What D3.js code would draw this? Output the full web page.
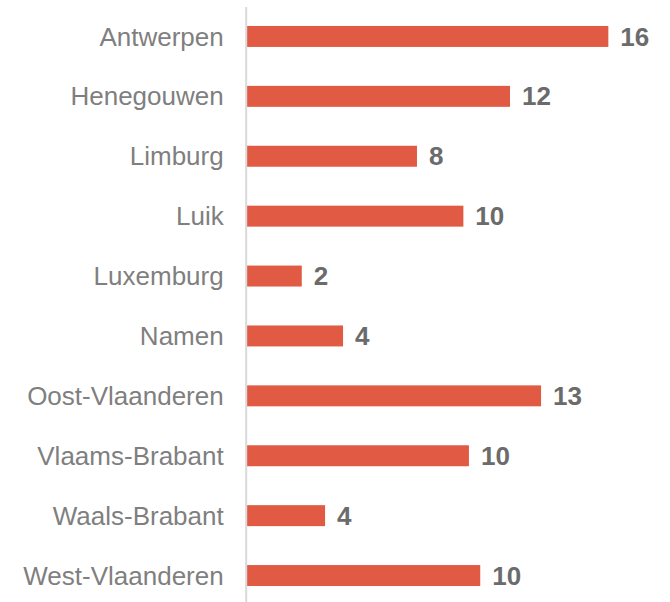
<!DOCTYPE html>
<html>
<head>
<meta charset="utf-8">
<script src="https://cdn.jsdelivr.net/npm/d3@7"></script>
<style>
  body { margin: 0; background: #fff; }
  svg { display: block; }
</style>
</head>
<body>
<div id="chart"></div>
<script>
// data (labels are the rounded numbers shown)
var provinces = ["Antwerpen", "Henegouwen", "Limburg", "Luik", "Luxemburg",
  "Namen", "Oost-Vlaanderen", "Vlaams-Brabant", "Waals-Brabant", "West-Vlaanderen"];
var values = [16.29, 11.86, 7.67, 9.76, 2.48, 4.34, 13.26, 10.01, 3.53, 10.52];
var valueLabels = ["16", "12", "8", "10", "2", "4", "13", "10", "4", "10"];

var svgWidth = 670;
var svgHeight = 602;

var data = provinces.map(function(p, i) {
  return { name: p, value: values[i], label: valueLabels[i] };
});

var svg = d3.select("#chart")
  .append("svg")
  .attr("width", svgWidth)
  .attr("height", svgHeight);

var x0 = 246.7;

// Create scale functions
var xScale = d3.scaleLinear()
  .domain([0, 18])
  .range([x0, x0 + 18 * 22.2]);

var yScale = d3.scaleBand()
  .domain(provinces)
  .range([6.5, 605.5])
  .paddingInner(0.65)
  .paddingOuter(0.325);

// Bars
svg.selectAll(".bar")
  .data(data)
  .enter()
  .append("rect")
  .attr("class", "bar")
  .attr("x", xScale(0))
  .attr("y", d => yScale(d.name))
  .attr("width", d => xScale(d.value) - xScale(0))
  .attr("height", yScale.bandwidth())
  .attr("fill", "#E05A44");

// Category axis
var leftAxis = d3.axisLeft(yScale)
  .tickSize(0)
  .tickSizeOuter(0)
  .tickPadding(22);

var axisG = svg.append("g")
  .attr("transform", "translate(245.7, 0)")
  .call(leftAxis);

axisG.select(".domain")
  .attr("stroke", "#d9d9d9")
  .attr("stroke-width", 2);

axisG.selectAll("text")
  .attr("font-family", "Liberation Sans, Arial, sans-serif")
  .attr("font-size", 26)
  .attr("fill", "#7f7f7f")
  .attr("dy", "0.35em");

// Value labels
svg.selectAll(".val")
  .data(data)
  .enter()
  .append("text")
  .attr("class", "val")
  .attr("x", d => xScale(d.value) + 12)
  .attr("y", d => yScale(d.name) + yScale.bandwidth() / 2)
  .attr("dy", "0.35em")
  .attr("font-family", "Liberation Sans, Arial, sans-serif")
  .attr("font-size", 26)
  .attr("font-weight", "bold")
  .attr("fill", "#6b6b6b")
  .text(d => d.label);
</script>
</body>
</html>
